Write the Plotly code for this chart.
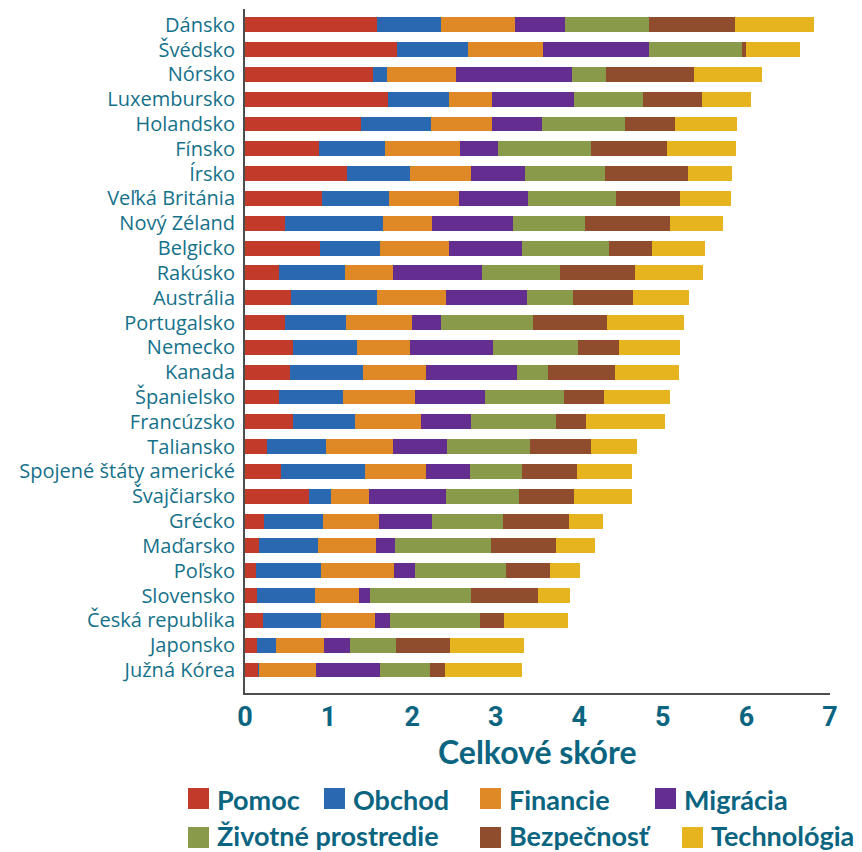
import plotly.graph_objects as go

countries = ["Dánsko", "Švédsko", "Nórsko", "Luxembursko", "Holandsko", "Fínsko", "Írsko",
             "Veľká Británia", "Nový Zéland", "Belgicko", "Rakúsko", "Austrália", "Portugalsko",
             "Nemecko", "Kanada", "Španielsko", "Francúzsko", "Taliansko",
             "Spojené štáty americké", "Švajčiarsko", "Grécko", "Maďarsko", "Poľsko",
             "Slovensko", "Česká republika", "Japonsko", "Južná Kórea"]

series_names = ["Pomoc", "Obchod", "Financie", "Migrácia",
                "Životné prostredie", "Bezpečnosť", "Technológia"]

pomoc = [1.58, 1.82, 1.53, 1.71, 1.39, 0.88, 1.22, 0.92, 0.48, 0.90, 0.41, 0.55, 0.48,
         0.57, 0.54, 0.41, 0.58, 0.26, 0.43, 0.77, 0.23, 0.17, 0.13, 0.14, 0.21, 0.14, 0.16]
obchod = [0.77, 0.85, 0.17, 0.73, 0.84, 0.79, 0.76, 0.80, 1.17, 0.72, 0.79, 1.03, 0.73,
          0.77, 0.87, 0.76, 0.74, 0.71, 1.01, 0.26, 0.70, 0.70, 0.78, 0.70, 0.70, 0.23, 0.01]
financie = [0.88, 0.89, 0.83, 0.52, 0.73, 0.90, 0.73, 0.84, 0.59, 0.82, 0.57, 0.82, 0.79,
            0.64, 0.76, 0.87, 0.79, 0.80, 0.73, 0.45, 0.67, 0.70, 0.87, 0.52, 0.65, 0.57, 0.68]
migracia = [0.60, 1.27, 1.38, 0.98, 0.59, 0.46, 0.64, 0.83, 0.97, 0.88, 1.06, 0.98, 0.35,
            0.99, 1.08, 0.83, 0.60, 0.65, 0.52, 0.93, 0.64, 0.22, 0.25, 0.13, 0.18, 0.32, 0.77]
zivotne = [1.00, 1.12, 0.41, 0.82, 1.00, 1.11, 0.96, 1.05, 0.86, 1.03, 0.94, 0.54, 1.10,
           1.01, 0.37, 0.95, 1.01, 0.99, 0.63, 0.87, 0.85, 1.15, 1.09, 1.22, 1.07, 0.55, 0.59]
bezpecnost = [1.03, 0.04, 1.05, 0.71, 0.60, 0.91, 0.99, 0.77, 1.01, 0.52, 0.90, 0.72, 0.88,
              0.50, 0.81, 0.48, 0.36, 0.73, 0.65, 0.66, 0.79, 0.78, 0.53, 0.79, 0.29, 0.64, 0.18]
technologia = [0.95, 0.65, 0.82, 0.59, 0.74, 0.82, 0.53, 0.60, 0.64, 0.64, 0.81, 0.67, 0.92,
               0.72, 0.76, 0.78, 0.94, 0.55, 0.66, 0.69, 0.40, 0.47, 0.36, 0.39, 0.77, 0.89, 0.93]

series_values = [pomoc, obchod, financie, migracia, zivotne, bezpecnost, technologia]
colors = ["#C23A29", "#2A69B2", "#DF8826", "#642E90", "#8A9A4B", "#8F4D2D", "#E6B41F"]

x_ticks = [0, 1, 2, 3, 4, 5, 6, 7]
x_title = "Celkové skóre"

TEAL = "#15718A"
TEAL_DARK = "#0B6580"

# the page body adds an 8px margin; lay out in page pixels minus that offset
OFF = 8
W, H = 862 - OFF, 852 - OFF
PLOT_L, PLOT_R, PLOT_T, PLOT_B = 245, 830, 9, 693  # page pixels
L = PLOT_L - OFF
R = W - (PLOT_R - OFF)
T = PLOT_T - OFF
B = H - (PLOT_B - OFF)
PW, PH = W - L - R, H - T - B

fig = go.Figure()
for name, vals, col in zip(series_names, series_values, colors):
    fig.add_trace(go.Bar(
        y=countries, x=vals, name=name, orientation="h",
        marker=dict(color=col, line=dict(width=0)), showlegend=False,
    ))

def px_x(px):
    return (px - OFF - L) / PW

def px_y(py):
    return (H - B - (py - OFF)) / PH

# manual legend (two rows), positions in page pixels: (square left, square centre y, text centre y)
legend_pos = [(188, 798.5, 799), (324, 798.5, 799), (480, 798.5, 799), (655, 798.5, 799),
              (188, 837.5, 835.5), (480, 837.5, 835.5), (682, 837.5, 835.5)]
shapes = []
annotations = []
sq = 21
for (lx, ly, ty), name, col in zip(legend_pos, series_names, colors):
    shapes.append(dict(type="rect", xref="paper", yref="paper",
                       x0=px_x(lx), x1=px_x(lx + sq),
                       y0=px_y(ly + sq / 2), y1=px_y(ly - sq / 2),
                       fillcolor=col, line=dict(width=0)))
    annotations.append(dict(xref="paper", yref="paper", x=px_x(lx + sq + 6), y=px_y(ty),
                            xanchor="left", yanchor="middle", showarrow=False, text=name,
                            font=dict(family="Lato", size=27, color=TEAL_DARK, weight="bold")))

annotations.append(dict(xref="paper", yref="paper", x=0.5, y=px_y(751.5),
                        xanchor="center", yanchor="middle", showarrow=False, text=x_title,
                        font=dict(family="Lato", size=32, color=TEAL_DARK, weight="bold")))

n = len(countries)
row = (670 - 24.7) / (n - 1)
top_pad = (24.7 - PLOT_T) / row
bot_pad = (PLOT_B - 670) / row

fig.update_layout(
    width=W, height=H,
    margin=dict(l=L, r=R, t=T, b=B, pad=0),
    plot_bgcolor="white", paper_bgcolor="white",
    barmode="stack", bargap=0.4,
    shapes=shapes, annotations=annotations,
    xaxis=dict(range=[0, 7], tickmode="array", tickvals=x_ticks,
               ticktext=[str(v) for v in x_ticks],
               showgrid=False, zeroline=False, showline=True, linecolor="#4d4d4d",
               linewidth=2, ticks="", ticklabelstandoff=-1,
               tickfont=dict(family="Roboto", size=27, color=TEAL_DARK, weight="bold")),
    yaxis=dict(tickmode="array", tickvals=countries, ticktext=countries,
               categoryorder="array", categoryarray=countries,
               range=[n - 1 + bot_pad, -top_pad],
               showgrid=False, zeroline=False, showline=True, linecolor="#4d4d4d",
               linewidth=2, ticks="", ticklabelstandoff=4,
               tickfont=dict(family="Open Sans", size=20, color=TEAL)),
)

fig.write_html("out.html")
